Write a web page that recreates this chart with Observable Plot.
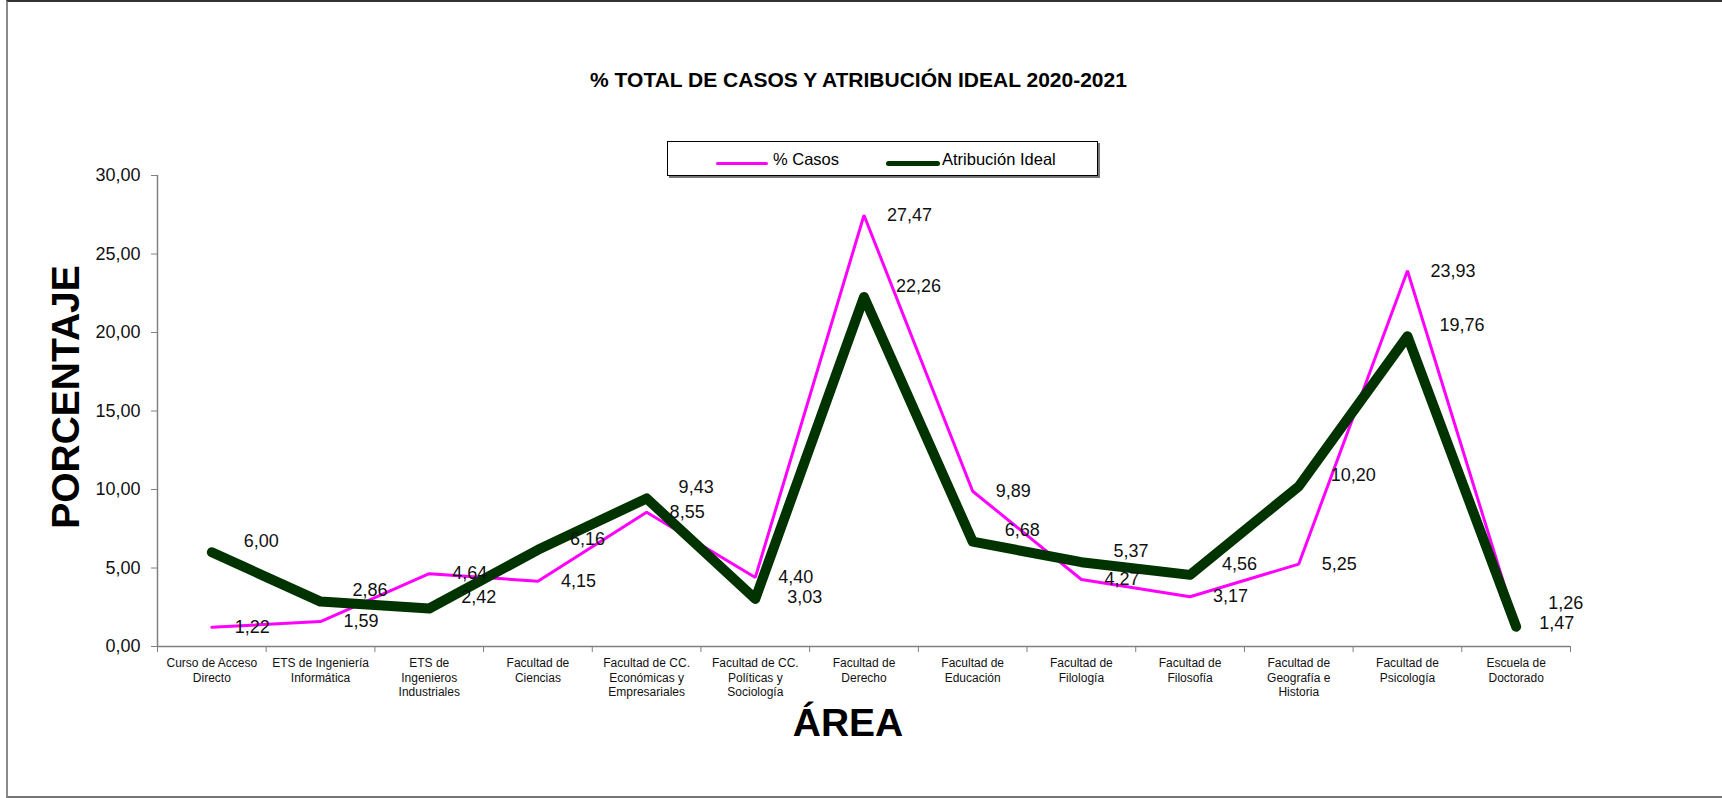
<!DOCTYPE html>
<html>
<head>
<meta charset="utf-8">
<script src="https://cdn.jsdelivr.net/npm/d3@7"></script>
<script src="https://cdn.jsdelivr.net/npm/@observablehq/plot@0.6"></script>
<style>
  html, body { margin: 0; padding: 0; background: #fff; overflow: hidden; }
  #wrap { position: relative; width: 1722px; height: 798px; font-family: "Liberation Sans", Arial, sans-serif; color: #000; }
  #frame { position: absolute; left: 6px; top: 0; width: 1740px; height: 798px; border-top: 2px solid #333; border-left: 2px solid #8a8a8a; border-bottom: 2px solid #777; box-sizing: border-box; }
  #chart { position: absolute; left: 0; top: 0; }
  #title { position: absolute; left: 0; width: 1717px; top: 69px; text-align: center; font-weight: bold; font-size: 21px; line-height: 1; white-space: nowrap; }
  #legend { position: absolute; left: 667px; top: 141px; width: 431px; height: 35px; border: 1px solid #000; box-sizing: border-box; box-shadow: 2px 2px 0 #777; background: #fff; }
  .sw { position: absolute; border-radius: 3px; }
  .lt { position: absolute; font-size: 16.5px; line-height: 1; top: 9px; white-space: nowrap; }
  #xlab { position: absolute; left: 748px; width: 200px; top: 703px; text-align: center; font-weight: bold; font-size: 39px; line-height: 1; }
  #ylab { position: absolute; left: 65px; top: 397px; transform: translate(-50%, -50%) rotate(-90deg); font-weight: bold; font-size: 39px; line-height: 1; white-space: nowrap; }
</style>
</head>
<body>
<div id="wrap">
  <div id="frame"></div>
  <div id="chart"></div>
  <div id="title">% TOTAL DE CASOS Y ATRIBUCIÓN IDEAL 2020-2021</div>
  <div id="legend">
    <div class="sw" style="left:48px; top:20px; width:52px; height:3px; background:#FF00FF;"></div>
    <div class="lt" style="left:105px;">% Casos</div>
    <div class="sw" style="left:218px; top:19px; width:54px; height:5px; background:#003300;"></div>
    <div class="lt" style="left:274px;">Atribución Ideal</div>
  </div>
  <div id="xlab">ÁREA</div>
  <div id="ylab">PORCENTAJE</div>
</div>
<script>
// ---- data ----
const categories = [
  "Curso de Acceso\nDirecto",
  "ETS de Ingeniería\nInformática",
  "ETS de\nIngenieros\nIndustriales",
  "Facultad de\nCiencias",
  "Facultad de CC.\nEconómicas y\nEmpresariales",
  "Facultad de CC.\nPolíticas y\nSociología",
  "Facultad de\nDerecho",
  "Facultad de\nEducación",
  "Facultad de\nFilología",
  "Facultad de\nFilosofía",
  "Facultad de\nGeografía e\nHistoria",
  "Facultad de\nPsicología",
  "Escuela de\nDoctorado"
];
const casos = [1.22, 1.59, 4.64, 4.15, 8.55, 4.40, 27.47, 9.89, 4.27, 3.17, 5.25, 23.93, 1.47];
const ideal = [6.00, 2.86, 2.42, 6.16, 9.43, 3.03, 22.26, 6.68, 5.37, 4.56, 10.20, 19.76, 1.26];
const yTicks = [0, 5, 10, 15, 20, 25, 30];

const W = 1722, H = 798, MT = 175, MB = 152, ML = 157, MR = 152;
const yMax = 30;
const pxPerUnit = (H - MT - MB) / yMax;

const fmt = v => v.toFixed(2).replace(".", ",");
const rows = categories.map((c, i) => {
  // The Atribución label sits a little above its point; if it would collide
  // with the % Casos label of the same category, move it a full line away.
  const lift = 11 / pxPerUnit, gap = 20 / pxPerUnit;
  let ly = ideal[i] + lift;
  if (Math.abs(ly - casos[i]) < gap) {
    ly = (casos[i] - ideal[i] > 1) ? casos[i] - gap : casos[i] + gap;
  }
  return { i, c, casos: casos[i], ideal: ideal[i], idealLabelY: ly };
});
const xc = d => d.i + 0.5;

const chart = Plot.plot({
  width: W,
  height: H,
  marginLeft: ML,
  marginRight: MR,
  marginTop: MT,
  marginBottom: MB,
  style: { fontFamily: "'Liberation Sans', Arial, sans-serif", background: "transparent", overflow: "visible", color: "#000" },
  x: { type: "linear", domain: [0, categories.length], axis: null },
  y: { domain: [0, yMax], axis: null },
  marks: [
    Plot.axisY({ ticks: yTicks, tickFormat: fmt, tickSize: 6, tickPadding: 11, fontSize: 18, stroke: "#808080", fill: "#111", label: null }),
    Plot.axisX({ ticks: d3.range(0, categories.length + 1), tickSize: 6, tickFormat: () => "", stroke: "#808080", label: null }),
    Plot.ruleX([0], { stroke: "#808080", strokeWidth: 1.5 }),
    Plot.ruleY([0], { stroke: "#808080", strokeWidth: 1.5 }),
    Plot.text(categories, { x: (d, i) => i + 0.5, text: d => d, frameAnchor: "bottom", lineAnchor: "top", dy: 10, fontSize: 12, lineHeight: 1.22, fill: "#111" }),
    Plot.line(rows, { x: xc, y: "casos", stroke: "#FF00FF", strokeWidth: 3, strokeLinejoin: "miter" }),
    Plot.line(rows, { x: xc, y: "ideal", stroke: "#003300", strokeWidth: 10, strokeLinecap: "round", strokeLinejoin: "round" }),
    Plot.text(rows, { x: xc, y: "casos", text: d => fmt(d.casos), textAnchor: "start", dx: 23, fontSize: 18, fill: "#111" }),
    Plot.text(rows, { x: xc, y: "idealLabelY", text: d => fmt(d.ideal), textAnchor: "start", dx: 32, fontSize: 18, fill: "#111" })
  ]
});
document.getElementById("chart").appendChild(chart);
</script>
</body>
</html>
